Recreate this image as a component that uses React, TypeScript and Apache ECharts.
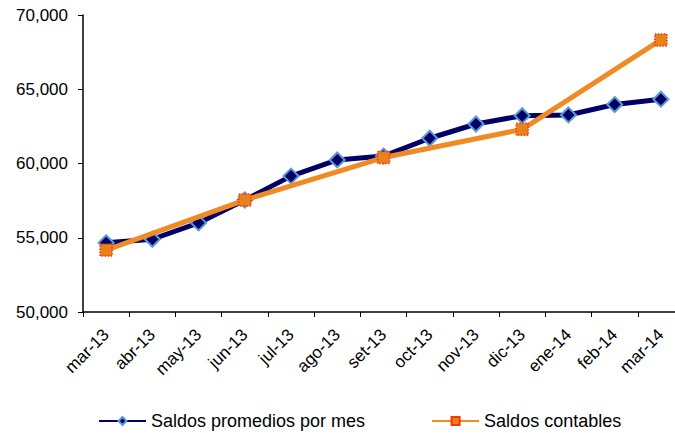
import React, { useEffect, useRef } from "react";
import * as echarts from "echarts";

const categories = ["mar-13", "abr-13", "may-13", "jun-13", "jul-13", "ago-13", "set-13", "oct-13", "nov-13", "dic-13", "ene-14", "feb-14", "mar-14"];
const promedios = [54660, 54900, 56000, 57540, 59150, 60240, 60500, 61700, 62660, 63220, 63270, 63970, 64330];
const contables = [54170, null, null, 57540, null, null, 60400, null, null, 62300, null, null, 68320];
const seriesNames = ["Saldos promedios por mes", "Saldos contables"];

const FONT = "Liberation Sans, Arial, sans-serif";

export default function App() {
  const ref = useRef<HTMLDivElement>(null);
  useEffect(() => {
    if (!ref.current) return;
    const chart = echarts.init(ref.current, null, { renderer: "svg" });
    chart.setOption({
      animation: false,
      textStyle: { fontFamily: FONT },
      grid: { left: 83, top: 15, height: 297, width: 601, containLabel: false },
      legend: {
        top: 407,
        left: 93,
        itemWidth: 47,
        itemHeight: 10,
        itemGap: 66,
        textStyle: { fontFamily: FONT, fontSize: 18, color: "#000" },
        data: seriesNames,
      },
      xAxis: {
        type: "category",
        data: categories,
        boundaryGap: true,
        axisLine: { lineStyle: { color: "#000", width: 1.5 } },
        axisTick: { show: true, length: 5, lineStyle: { color: "#000" } },
        axisLabel: { rotate: 45, fontSize: 17, color: "#000", fontFamily: FONT, margin: 20, interval: 0 },
        splitLine: { show: false },
      },
      yAxis: {
        type: "value",
        min: 50000,
        max: 70000,
        interval: 5000,
        axisLine: { show: true, lineStyle: { color: "#000", width: 1.5 } },
        axisTick: { show: true, length: 5, lineStyle: { color: "#000" } },
        axisLabel: {
          fontSize: 17,
          color: "#000",
          fontFamily: FONT,
          margin: 15,
          formatter: (v: number) => v.toLocaleString("en-US"),
        },
        splitLine: { show: false },
      },
      series: [
        {
          name: seriesNames[0],
          type: "line",
          data: promedios,
          symbol: "diamond",
          symbolSize: 15,
          lineStyle: { color: "#000066", width: 5 },
          itemStyle: { color: "#000066", borderColor: "#5b9bd5", borderWidth: 2 },
          z: 2,
        },
        {
          name: seriesNames[1],
          type: "line",
          data: contables,
          connectNulls: true,
          symbol: "rect",
          symbolSize: 12,
          lineStyle: { color: "#f08a24", width: 5 },
          itemStyle: { color: "#e8821e", borderColor: "#ff3300", borderWidth: 1.5, borderType: "dotted" },
          z: 3,
        },
      ],
    });
    return () => chart.dispose();
  }, []);
  return (
    <div style={{ width: 675, height: 433, position: "absolute", left: 0, top: 0, overflow: "hidden" }}>
      <div ref={ref} style={{ width: 700, height: 433 }} />
    </div>
  );
}
